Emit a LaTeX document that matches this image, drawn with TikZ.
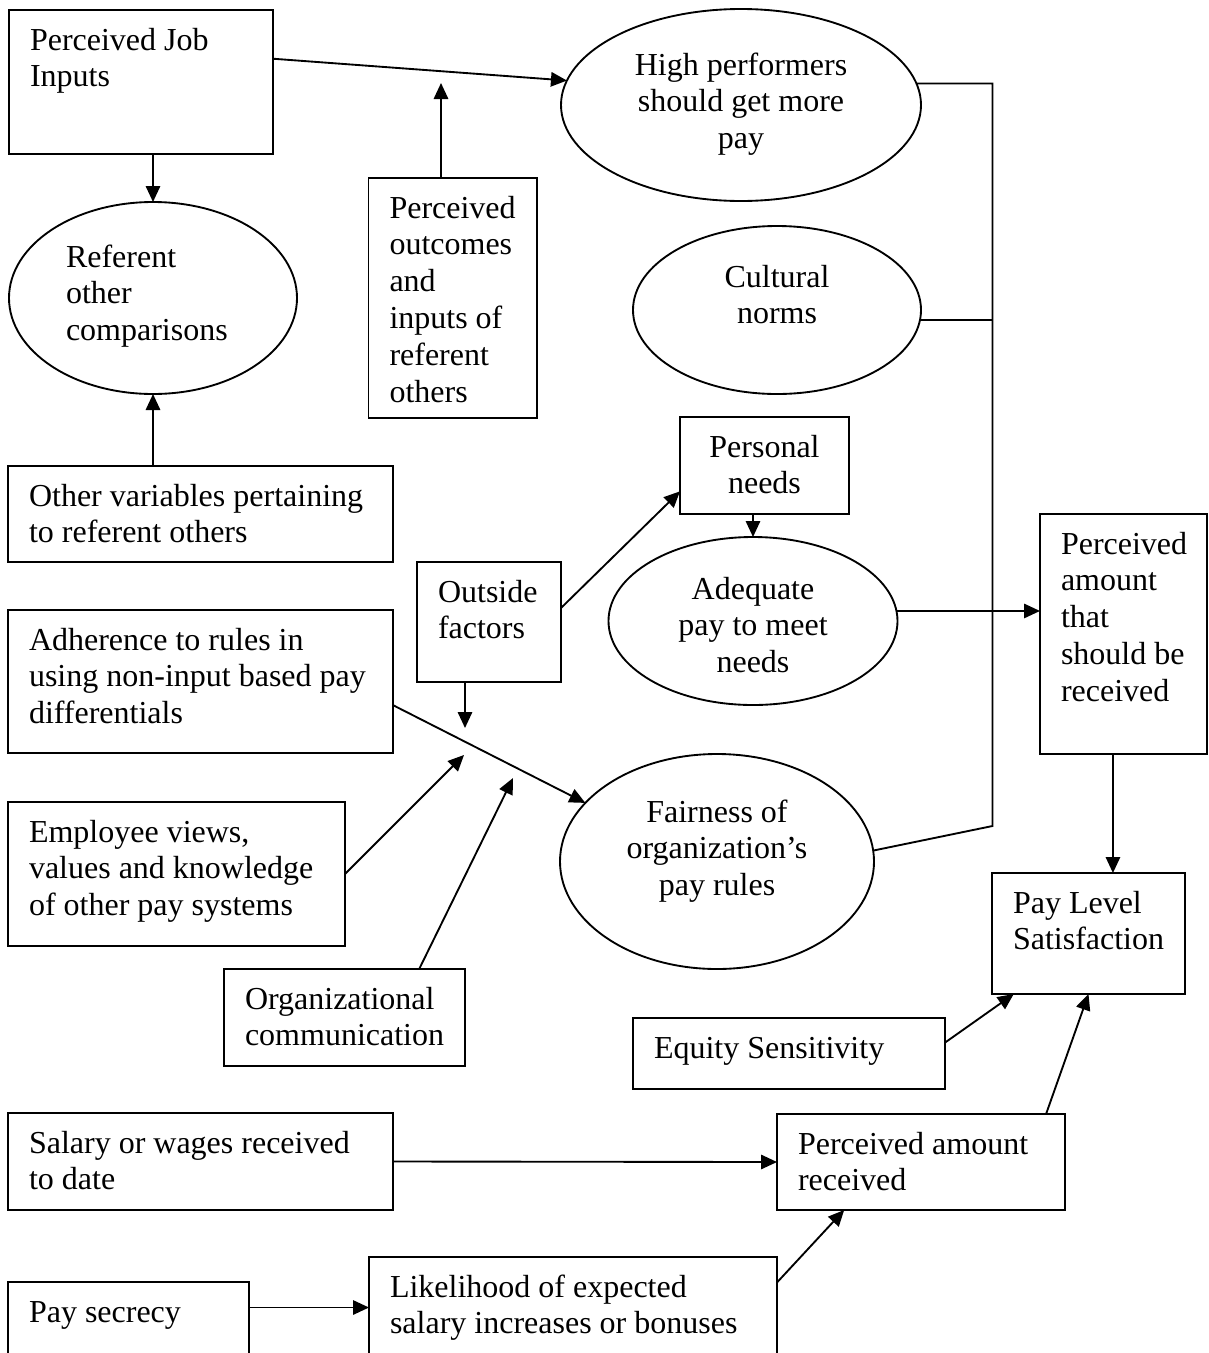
\documentclass[tikz,border=0pt]{standalone}
\usepackage{fontspec}
\setmainfont{Liberation Serif}
\usetikzlibrary{shapes.geometric,arrows.meta}
\newcommand{\upx}{0.375pt}
\hyphenpenalty=10000

\begin{document}
\begin{tikzpicture}[x=0.375pt,y=-0.375pt,line width=0.7pt,
    every node/.style={font=\fontsize{12pt}{13.8pt}\selectfont,outer sep=0pt},
    box/.style={draw,rectangle,anchor=north west,inner xsep=21*\upx,inner ysep=0pt,text height=40*\upx,align=flush left},
    oval/.style={draw,ellipse,inner sep=0pt,text height=0pt,align=flush center},
    arr/.style={-{Triangle[length=6pt,width=5.4pt]}}]
                \useasboundingbox (0,0) rectangle (1209,1353);

                \node[box,text width=222*\upx,text depth=104*\upx] (job) at (9,10) {Perceived Job\\Inputs};
                \node[box,text width=126.5*\upx,text depth=200*\upx] (outc) at (368.5,178) {Perceived\\outcomes\\and\\inputs of\\referent\\others};
                \node[box,text width=343*\upx,text depth=56*\upx] (other) at (8,466) {Other variables pertaining\\to referent others};
                \node[box,text width=102*\upx,text depth=80*\upx] (outside) at (417,562) {Outside\\factors};
                \node[box,text width=343*\upx,text depth=103*\upx] (adher) at (8,610) {Adherence to rules in\\using non-input based pay\\differentials};
                \node[box,text width=295*\upx,text depth=104*\upx] (empl) at (8,802) {Employee views,\\values and knowledge\\of other pay systems};
                \node[box,text width=199*\upx,text depth=57*\upx] (orgc) at (224,969) {Organizational\\communication};
                \node[box,text width=343*\upx,text depth=57*\upx] (salary) at (8,1113) {Salary or wages received\\to date};
                \node[box,text width=199*\upx,text depth=36*\upx] (secrecy) at (8,1282) {Pay secrecy};
                \node[box,text width=366*\upx,text depth=61*\upx] (likel) at (369,1257) {Likelihood of expected\\salary increases or bonuses};
                \node[box,align=flush center,text width=127*\upx,text depth=57*\upx] (pers) at (680,417) {Personal\\needs};
                \node[box,text width=125*\upx,text depth=200*\upx] (should) at (1040,514) {Perceived\\amount\\that\\should be\\received};
                \node[box,text width=151*\upx,text depth=81*\upx] (paylev) at (992,873) {Pay Level\\Satisfaction};
                \node[box,text width=270*\upx,text depth=31*\upx] (equity) at (633,1018) {Equity Sensitivity};
                \node[box,text width=246*\upx,text depth=56*\upx] (recv) at (777,1114) {Perceived amount\\received};

                \node[oval,minimum width=360*\upx,minimum height=192*\upx,text width=220*\upx,text depth=60*\upx] (high) at (741,105) {High performers\\should get more\\pay};
                \node[oval,align=flush left,minimum width=288*\upx,minimum height=192*\upx,text width=174*\upx,text depth=62*\upx] (refer) at (153,298) {Referent\\other\\comparisons};
                \node[oval,minimum width=288*\upx,minimum height=168*\upx,text width=150*\upx,text depth=46*\upx] (cult) at (777,310) {Cultural\\norms};
                \node[oval,minimum width=289*\upx,minimum height=168*\upx,text width=160*\upx,text depth=44*\upx] (adeq) at (753,621) {Adequate\\pay to meet\\needs};
                \node[oval,minimum width=314*\upx,minimum height=215*\upx,text width=190*\upx,text depth=79*\upx] (fair) at (717,861.5) {Fairness of\\organization’s\\pay rules};

                \coordinate (outctip) at (441,83);
                \coordinate (outsidetip) at (465,728);
                \coordinate (empltip) at (464,755);
                \coordinate (orgctip) at (513,778);
                \coordinate (barbot) at (992.5,826);

                \draw[arr] (job.10.3) -- (high.172.8);
                \draw[arr] (job.south -| refer.north) -- (refer.north);
                \draw[arr] (other.north -| refer.south) -- (refer.south);
                \draw[arr] (outc.north -| outctip) -- (outctip);
                \draw (high.7.8) -- (high.7.8 -| barbot) -- (barbot) -- (fair.4.6);
                \draw (cult.-4.8) -- (cult.-4.8 -| barbot);
                \draw[arr] (pers.south -| adeq.north) -- (adeq.north);
                \draw[arr] (outside.11) -- (pers.197.4);
                \draw[arr] (outside.south -| outsidetip) -- (outsidetip);
                \draw[arr] (adeq.4.8) -- (adeq.4.8 -| should.west);
                \draw[arr] (adher.-7.5) -- (fair.156);
                \draw[arr] (empl.east) -- (empltip);
                \draw[arr] (orgc.33.8) -- (orgctip);
                \draw[arr] (should.265) -- (paylev.68);
                \draw[arr] (equity.4.6) -- (paylev.219.6);
                \draw[arr] (recv.21.8) -- (paylev.south);
                \draw[arr] (salary.east) -- (recv.west);
                \draw[arr] (secrecy.east |- likel.west) -- (likel.west);
                \draw[arr] (likel.7.7) -- (recv.212.6);
            \end{tikzpicture}
\end{document}
